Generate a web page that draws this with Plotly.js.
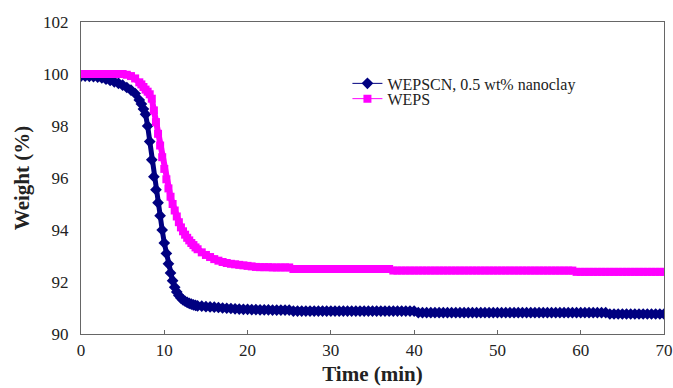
<!DOCTYPE html>
<html>
<head>
<meta charset="utf-8">
<script src="https://cdn.plot.ly/plotly-3.0.1.min.js"></script>
<style>html,body{margin:0;padding:0;background:#fff}#chart{width:673px;height:388px}</style>
</head>
<body>
<div id="chart"></div>
<script>
var time = [0,0.5,1,1.5,2,2.5,3,3.5,4,4.5,5,5.5,6,6.5,
  7,7.25,7.5,7.75,8,8.25,8.5,8.75,9,9.25,9.5,9.75,10,10.25,10.5,10.75,11,11.25,11.5,11.75,12,12.25,12.5,12.75,13,13.25,13.5,13.75,14,
  14.5,15,15.5,16,16.5,17,17.5,18,18.5,19,19.5,20,
  20.5,21,21.5,22,22.5,23,23.5,24,24.5,25,
  25.5,26,26.5,27,27.5,28,28.5,29,29.5,30,30.5,31,31.5,32,32.5,33,33.5,34,34.5,35,35.5,36,36.5,37,37.5,38,38.5,39,39.5,40,
  40.5,41,41.5,42,42.5,43,43.5,44,44.5,45,45.5,46,46.5,47,47.5,48,48.5,49,49.5,50,50.5,51,51.5,52,52.5,53,53.5,54,54.5,55,55.5,56,56.5,57,57.5,58,58.5,59,59.5,60,60.5,61,61.5,62,62.5,63,
  63.5,64,64.5,65,65.5,66,66.5,67,67.5,68,68.5,69,69.5,70];

var wepscn = [99.92,99.92,99.91,99.9,99.88,99.85,99.8,99.75,99.7,99.64,99.57,99.48,99.38,99.25,
  99.0,98.85,98.65,98.45,98.0,97.4,96.7,96.05,95.55,95.05,94.55,94.0,93.5,93.1,92.7,92.35,92.05,91.8,91.62,91.48,91.38,91.31,91.26,91.22,91.18,91.15,91.12,91.1,91.08,
  91.07,91.05,91.04,91.03,91.02,91.0,90.99,90.98,90.97,90.96,90.95,90.95,
  90.94,90.94,90.93,90.93,90.93,90.92,90.92,90.92,90.92,90.92,
  90.88,90.88,90.88,90.88,90.88,90.88,90.88,90.88,90.88,90.88,90.88,90.88,90.88,90.88,90.88,90.88,90.88,90.88,90.88,90.88,90.88,90.88,90.88,90.88,90.88,90.88,90.88,90.88,90.88,90.88,
  90.82,90.82,90.82,90.82,90.82,90.82,90.82,90.82,90.82,90.82,90.82,90.82,90.82,90.82,90.82,90.82,90.82,90.82,90.82,90.82,90.82,90.82,90.82,90.82,90.82,90.82,90.82,90.82,90.82,90.82,90.82,90.82,90.82,90.82,90.82,90.82,90.82,90.82,90.82,90.82,90.82,90.82,90.82,90.82,90.82,90.82,
  90.77,90.77,90.77,90.77,90.77,90.77,90.77,90.77,90.77,90.77,90.77,90.77,90.77,90.77];

var weps = [100,100,100,100,100,100,100,100,100,100,100,99.97,99.92,99.83,
  99.68,99.6,99.5,99.4,99.32,99.22,99.05,98.6,98.15,97.7,97.25,96.8,96.35,95.95,95.6,95.28,95.0,94.75,94.52,94.3,94.1,93.95,93.82,93.7,93.6,93.5,93.42,93.33,93.26,
  93.14,93.04,92.96,92.88,92.82,92.77,92.73,92.7,92.68,92.66,92.64,92.62,
  92.6,92.58,92.57,92.57,92.57,92.56,92.56,92.56,92.56,92.56,
  92.5,92.5,92.5,92.5,92.5,92.5,92.5,92.5,92.5,92.5,92.5,92.5,92.5,92.5,92.5,92.5,92.5,92.5,92.5,92.5,92.5,92.5,92.5,92.5,
  92.44,92.44,92.44,92.44,92.44,92.44,92.44,92.44,92.44,92.44,92.44,92.44,92.44,92.44,92.44,92.44,92.44,92.44,92.44,92.44,92.44,92.44,92.44,92.44,92.44,92.44,92.44,92.44,92.44,92.44,92.44,92.44,92.44,92.44,92.44,92.44,92.44,92.44,92.44,92.44,92.44,92.44,92.44,92.44,
  92.39,92.39,92.39,92.39,92.39,92.39,92.39,92.39,92.39,92.39,92.39,92.39,92.39,92.39,92.39,92.39,92.39,92.39,92.39,92.39,92.39,92.39];

var seriesNames = ['WEPSCN, 0.5 wt% nanoclay', 'WEPS'];
var xTickVals = [0,10,20,30,40,50,60,70];
var yTickVals = [90,92,94,96,98,100,102];

var font = 'Liberation Serif, Times New Roman, serif';
var navy = '#000080', magenta = '#ff00ff';

var traces = [
  {x: time, y: wepscn, type: 'scatter', mode: 'lines', showlegend: false, hoverinfo: 'skip',
   line: {color: navy, width: 5}},
  {x: time, y: wepscn, name: seriesNames[0], type: 'scatter', mode: 'lines+markers', legend: 'legend',
   line: {color: navy, width: 1},
   marker: {symbol: 'diamond', size: 9, color: navy}},
  {x: time, y: weps, type: 'scatter', mode: 'lines', showlegend: false, hoverinfo: 'skip',
   line: {color: magenta, width: 6}},
  {x: time, y: weps, name: seriesNames[1], type: 'scatter', mode: 'lines+markers', legend: 'legend2',
   line: {color: magenta, width: 1},
   marker: {symbol: 'square', size: 8, color: magenta}}
];

var legendFont = {family: font, size: 16, color: '#222'};
var layout = {
  width: 673, height: 388,
  margin: {l: 81, r: 9, t: 22, b: 54},
  paper_bgcolor: '#fff', plot_bgcolor: '#fff',
  font: {family: font, size: 17, color: '#222'},
  showlegend: true,
  legend: {x: 0.457, y: 0.803, xanchor: 'left', yanchor: 'middle', bgcolor: 'rgba(0,0,0,0)', font: legendFont, itemwidth: 30},
  legend2: {x: 0.457, y: 0.754, xanchor: 'left', yanchor: 'middle', bgcolor: 'rgba(0,0,0,0)', font: legendFont, itemwidth: 30},
  xaxis: {range: [0, 70], tickvals: xTickVals, ticktext: xTickVals.map(String),
          showgrid: false, zeroline: false, showline: true, linecolor: '#666', linewidth: 1, mirror: true,
          ticks: 'inside', ticklen: 4, tickcolor: '#666', ticklabeloverflow: 'allow', ticklabelstandoff: 1,
          tickfont: {family: font, size: 17, color: '#222'},
          title: {text: '<b>Time (min)</b>', font: {family: font, size: 21, color: '#222'}, standoff: 6}},
  yaxis: {range: [90, 102], tickvals: yTickVals, ticktext: yTickVals.map(String),
          showgrid: false, zeroline: false, showline: true, linecolor: '#666', linewidth: 1, mirror: true,
          ticks: '', ticklabelstandoff: 8, tickfont: {family: font, size: 17, color: '#222'},
          title: {text: '<b>Weight (%)</b>', font: {family: font, size: 21, color: '#222'}, standoff: 7}}
};

Plotly.newPlot('chart', traces, layout, {displayModeBar: false, staticPlot: true});
</script>
</body>
</html>
